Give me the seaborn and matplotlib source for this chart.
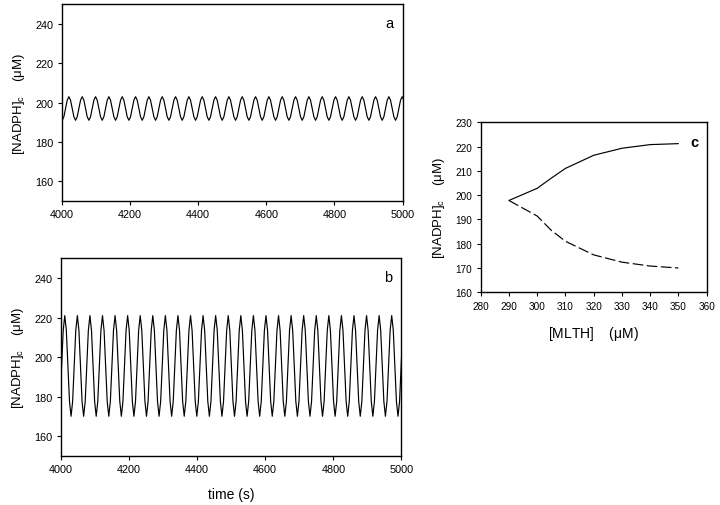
import numpy as np
import pandas as pd
import matplotlib
matplotlib.use("Agg")
import matplotlib.pyplot as plt
import seaborn as sns

# --- values ---
# one oscillation cycle (trough -> trough), sampled at 1/8 period steps
cycle_a = [191.0, 192.8, 197.0, 201.2, 203.0, 201.2, 197.0, 192.8]
cycle_b = [170.0, 177.5, 195.5, 213.5, 221.0, 213.5, 195.5, 177.5]
period_a = 39.1      # s
period_b = 36.9      # s
first_trough_a = 4001.5
first_trough_b = 3993.5
t_start, t_end = 4000, 5000

# bifurcation diagram (panel c)
mlth = [290, 300, 305, 310, 320, 330, 340, 350]
nadph_max = [197.8, 202.8, 207.0, 211.0, 216.4, 219.3, 220.8, 221.2]
nadph_min = [197.8, 191.4, 185.5, 181.0, 175.4, 172.4, 170.8, 170.0]


def oscillation(cycle, period, t0):
    n = len(cycle)
    k0 = int(np.floor((t_start - t0) / period * n)) - 1
    k1 = int(np.ceil((t_end - t0) / period * n)) + 1
    ks = np.arange(k0, k1 + 1)
    t = t0 + ks * period / n
    v = np.array(cycle)[ks % n]
    return pd.DataFrame({"time": t, "nadph": v})


sns.set_style("ticks")
plt.rcParams["font.family"] = ["Liberation Sans", "DejaVu Sans"]
plt.rcParams["mathtext.fontset"] = "custom"
plt.rcParams["mathtext.rm"] = "Liberation Sans"
plt.rcParams["mathtext.it"] = "Liberation Sans"
plt.rcParams["axes.linewidth"] = 1.0
plt.rcParams["axes.edgecolor"] = "black"
plt.rcParams["text.color"] = "black"
plt.rcParams["axes.labelcolor"] = "black"
plt.rcParams["xtick.color"] = "black"
plt.rcParams["ytick.color"] = "black"
plt.rcParams["xtick.major.size"] = 3
plt.rcParams["ytick.major.size"] = 3
plt.rcParams["xtick.major.width"] = 0.8
plt.rcParams["ytick.major.width"] = 0.8

fig = plt.figure(figsize=(7.2, 5.06), dpi=100)
ax_a = fig.add_axes([0.0857, 0.6008, 0.4736, 0.389])
ax_b = fig.add_axes([0.0843, 0.0974, 0.4733, 0.390])
ax_c = fig.add_axes([0.6676, 0.4204, 0.3139, 0.336])

ylab = r"[NADPH]$_{\rm c}$    ($\mu$M)"

for ax, cyc, per, t0, lab in [
    (ax_a, cycle_a, period_a, first_trough_a, "a"),
    (ax_b, cycle_b, period_b, first_trough_b, "b"),
]:
    df = oscillation(cyc, per, t0)
    sns.lineplot(data=df, x="time", y="nadph", ax=ax, color="black",
                 linewidth=0.85, sort=False)
    ax.set_xlim(t_start, t_end)
    ax.set_ylim(150, 250)
    ax.set_xticks(range(4000, 5001, 200))
    ax.set_yticks(range(160, 241, 20))
    ax.tick_params(labelsize=7.8, pad=3)
    ax.set_ylabel(ylab, fontsize=9.5, labelpad=6)
    ax.set_xlabel("")
    ax.text(0.96, 0.905, lab, transform=ax.transAxes, fontsize=10.5,
            ha="center", va="center")

ax_b.set_xlabel("time (s)", fontsize=10, labelpad=9)

sns.lineplot(x=mlth, y=nadph_max, ax=ax_c, color="black", linewidth=0.85)
sns.lineplot(x=mlth, y=nadph_min, ax=ax_c, color="black", linewidth=0.85,
             linestyle=(0, (9, 3)))
ax_c.set_xlim(280, 360)
ax_c.set_ylim(160, 230)
ax_c.set_xticks(range(280, 361, 10))
ax_c.set_yticks(range(160, 231, 10))
ax_c.tick_params(labelsize=7.2, pad=3)
ax_c.set_ylabel(ylab, fontsize=9.5, labelpad=6)
ax_c.set_xlabel(r"[MLTH]    ($\mu$M)", fontsize=10, labelpad=10)
ax_c.text(0.948, 0.884, "c", transform=ax_c.transAxes, fontsize=10.5,
          fontweight="bold", ha="center", va="center")

fig.savefig("out.png", dpi=100)
